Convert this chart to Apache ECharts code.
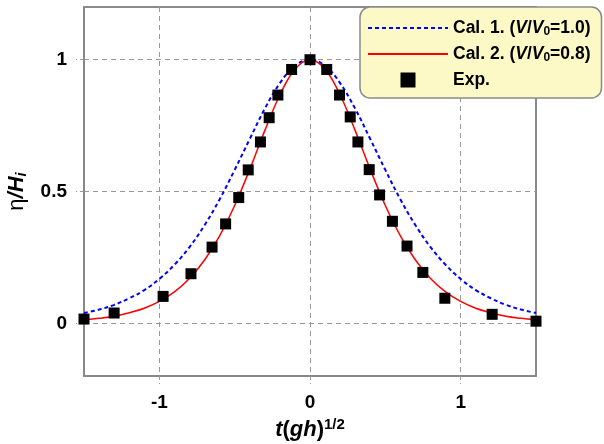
<!DOCTYPE html>
<html>
<head>
<meta charset="utf-8">
<script src="https://cdn.jsdelivr.net/npm/echarts@6/dist/echarts.min.js"></script>
<style>
  html, body { margin: 0; padding: 0; background: #fff; }
  #chart { width: 604px; height: 444px; }
</style>
</head>
<body>
<div id="chart"></div>
<script>
// Non-dimensional time axis shared by both computed profiles
const calT = [-1.5, -1.4, -1.3, -1.2, -1.1, -1.0, -0.9, -0.8, -0.7, -0.6, -0.5, -0.4, -0.3, -0.2, -0.1,
              0, 0.1, 0.2, 0.3, 0.4, 0.5, 0.6, 0.7, 0.8, 0.9, 1.0, 1.1, 1.2, 1.3, 1.4, 1.5];
// Cal. 1 (V/V0 = 1.0), dotted blue
const cal1Eta = [0.039, 0.052, 0.070, 0.095, 0.126, 0.168, 0.222, 0.289, 0.372, 0.470, 0.582, 0.699, 0.814, 0.911, 0.977,
                 1.000, 0.977, 0.911, 0.814, 0.699, 0.582, 0.470, 0.372, 0.289, 0.222, 0.168, 0.126, 0.095, 0.070, 0.052, 0.039];
// Cal. 2 (V/V0 = 0.8), solid red
const cal2Eta = [0.013, 0.019, 0.027, 0.040, 0.057, 0.083, 0.119, 0.170, 0.240, 0.332, 0.447, 0.584, 0.731, 0.866, 0.964,
                 1.000, 0.964, 0.866, 0.731, 0.584, 0.447, 0.332, 0.240, 0.170, 0.119, 0.083, 0.057, 0.040, 0.027, 0.019, 0.013];
// Measured surface elevation
const expT   = [-1.5, -1.3, -0.975, -0.79, -0.65, -0.56, -0.473, -0.41, -0.329, -0.271, -0.213, -0.122, 0,
                0.111, 0.196, 0.267, 0.318, 0.393, 0.462, 0.547, 0.644, 0.749, 0.895, 1.209, 1.5];
const expEta = [0.016, 0.039, 0.102, 0.188, 0.289, 0.377, 0.477, 0.582, 0.688, 0.780, 0.866, 0.963, 1.000,
                0.963, 0.866, 0.783, 0.688, 0.583, 0.487, 0.387, 0.293, 0.193, 0.095, 0.034, 0.008];
// Tick positions
const xTicks = [-1, 0, 1];
const yTicks = [0, 0.5, 1];

const FONT = '"Liberation Sans", Arial, Helvetica, sans-serif';
const zip = (a, b) => a.map((v, i) => [v, b[i]]);

const legendText = {
  'Cal. 1.': '{b|Cal. 1. (}{i|V}{b|/}{i|V}{s|0}{b|=1.0)}',
  'Cal. 2.': '{b|Cal. 2. (}{i|V}{b|/}{i|V}{s|0}{b|=0.8)}',
  'Exp.': '{b|Exp.}'
};

const gridLine = { show: true, lineStyle: { color: '#999', width: 1, type: [5, 4] } };
const tickLine = { show: true, inside: false, length: 8, lineStyle: { color: '#999', width: 1, type: [4, 3] } };

const chart = echarts.init(document.getElementById('chart'), null, { renderer: 'canvas' });
chart.setOption({
  animation: false,
  backgroundColor: '#fff',
  grid: {
    left: 84, right: 68, top: 7, bottom: 68,
    containLabel: false, outerBoundsMode: 'none',
    show: true, borderColor: '#666', borderWidth: 1.5
  },
  xAxis: {
    type: 'value', min: -1.5, max: 1.5,
    axisLine: { show: true, onZero: false, lineStyle: { color: '#888', width: 2 } },
    axisTick: Object.assign({ customValues: xTicks }, tickLine),
    axisLabel: { customValues: xTicks, margin: 17, color: '#000', fontFamily: FONT, fontSize: 19, fontWeight: 'bold' },
    splitLine: gridLine,
    name: '{it|t}{n|(}{it|gh}{n|)}{sup|1/2}',
    nameLocation: 'middle', nameGap: 36,
    nameTextStyle: {
      color: '#000', fontFamily: FONT, fontSize: 22, lineHeight: 26,
      rich: {
        it: { fontFamily: FONT, fontSize: 22, fontWeight: 'bold', fontStyle: 'italic', lineHeight: 26 },
        n: { fontFamily: FONT, fontSize: 22, fontWeight: 'bold', lineHeight: 26 },
        sup: { fontFamily: FONT, fontSize: 15, fontWeight: 'bold', lineHeight: 18, verticalAlign: 'top' }
      }
    }
  },
  yAxis: {
    type: 'value', min: -0.2, max: 1.2,
    axisLine: { show: true, onZero: false, lineStyle: { color: '#888', width: 2 } },
    axisTick: Object.assign({ customValues: yTicks }, tickLine),
    axisLabel: { customValues: yTicks, margin: 17, color: '#000', fontFamily: FONT, fontSize: 19, fontWeight: 'bold' },
    splitLine: gridLine,
    name: '{n|η}{bi|/H}{sub|i}',
    nameLocation: 'middle', nameRotate: 90, nameGap: 54,
    nameTextStyle: {
      color: '#000', fontFamily: FONT, fontSize: 22, lineHeight: 26,
      rich: {
        n: { fontFamily: FONT, fontSize: 22, lineHeight: 26 },
        bi: { fontFamily: FONT, fontSize: 22, fontWeight: 'bold', fontStyle: 'italic', lineHeight: 26 },
        sub: { fontFamily: FONT, fontSize: 15, fontWeight: 'bold', fontStyle: 'italic', lineHeight: 12, verticalAlign: 'bottom' }
      }
    }
  },
  legend: {
    orient: 'vertical', left: 360, top: 7,
    padding: [11, 11, 8, 7], itemGap: 6, itemWidth: 80, itemHeight: 15,
    symbolKeepAspect: true,
    backgroundColor: '#fdf9c6', borderColor: '#8a8a8a', borderWidth: 1.5, borderRadius: 10,
    data: [
      { name: 'Cal. 1.', itemStyle: { opacity: 0 } },
      { name: 'Cal. 2.', itemStyle: { opacity: 0 } },
      { name: 'Exp.', icon: 'path://M0,0H10V10H0Z', symbolKeepAspect: true, itemStyle: { color: '#000', opacity: 1 } }
    ],
    formatter: name => legendText[name],
    textStyle: {
      color: '#000', fontFamily: FONT, fontSize: 17.5, fontWeight: 'bold', lineHeight: 20,
      rich: {
        b: { fontFamily: FONT, fontSize: 17.5, fontWeight: 'bold', lineHeight: 20 },
        i: { fontFamily: FONT, fontSize: 17.5, fontWeight: 'bold', fontStyle: 'italic', lineHeight: 20 },
        s: { fontFamily: FONT, fontSize: 12, fontWeight: 'bold', lineHeight: 6, verticalAlign: 'bottom' }
      }
    }
  },
  series: [
    {
      name: 'Cal. 1.', type: 'line', data: zip(calT, cal1Eta), smooth: 0.4,
      symbol: 'none', showSymbol: false,
      lineStyle: { color: '#0000ff', width: 2, type: [4, 3] },
      itemStyle: { color: '#0000ff' }, z: 2
    },
    {
      name: 'Cal. 2.', type: 'line', data: zip(calT, cal2Eta), smooth: 0.4,
      symbol: 'none', showSymbol: false,
      lineStyle: { color: '#ff0000', width: 1.5 },
      itemStyle: { color: '#ff0000' }, z: 3
    },
    {
      name: 'Exp.', type: 'scatter', data: zip(expT, expEta),
      symbol: 'rect', symbolSize: 11,
      itemStyle: { color: '#000', opacity: 1 }, z: 4
    }
  ]
});
</script>
</body>
</html>
